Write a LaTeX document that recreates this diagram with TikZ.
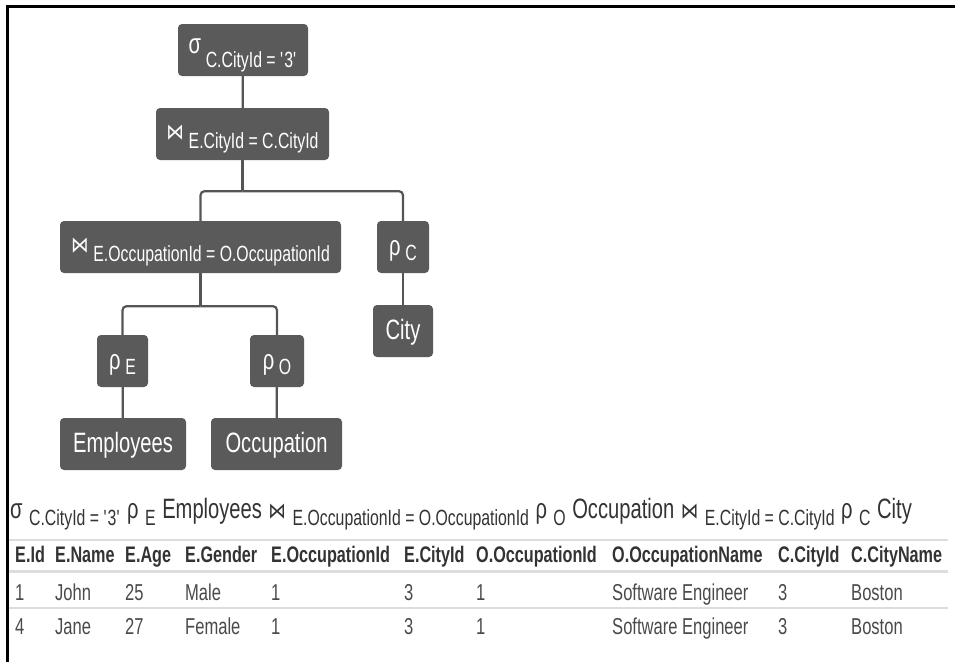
\documentclass[tikz,border=0pt]{standalone}
\usepackage{fontspec}
\setmainfont[FakeStretch=0.72]{Liberation Sans}
\newfontfamily\symfont[FakeStretch=0.8]{DejaVu Sans}

\definecolor{boxgrey}{HTML}{5A5A5A}
\definecolor{linegrey}{HTML}{555555}
\definecolor{textgrey}{HTML}{333333}
\definecolor{cellgrey}{HTML}{4A4A4A}
\definecolor{rulegrey}{HTML}{DDDDDD}

\newcommand{\bigtxt}{\fontsize{28}{30}\selectfont}
\newcommand{\smalltxt}{\fontsize{22}{24}\selectfont}
\newcommand{\lowsub}[2]{\raisebox{-#1}{\smalltxt #2}}
\newcommand{\joinsym}{{\symfont\fontsize{22}{24}\selectfont ⋈}}
\newcommand{\sq}{\textquotesingle}
\newcommand{\gap}{\hspace{6.5pt}}

\begin{document}
\begin{tikzpicture}[x=1pt,y=-1pt]
    \tikzstyle{relbox}=[rectangle,fill=boxgrey,rounded corners=4pt,text=white,inner sep=0pt,minimum height=52pt,text height=16pt,text depth=0pt,font=\bigtxt]
    \tikzstyle{conn}=[draw=linegrey,line width=2.2pt,rounded corners=4pt]
    \tikzstyle{headtxt}=[anchor=base west,inner sep=0pt,text=textgrey,font=\fontsize{22.5}{24}\selectfont\bfseries]
    \tikzstyle{celltxt}=[anchor=base west,inner sep=0pt,text=cellgrey,font=\fontsize{23}{24}\selectfont]
    \useasboundingbox (0,0) rectangle (955,662);

    % frame
    \draw[line width=3pt] (7.5,662) -- (7.5,6) -- (955,6);

    % tree
    \node[relbox,minimum width=130pt] (sel) at (243,50) {\raisebox{5pt}{σ}\,\lowsub{9pt}{C.CityId = \sq3\sq}};
    \node[relbox,minimum width=173pt] (cityjoin) at (242.5,134) {\raisebox{3pt}{\joinsym}\,\lowsub{6pt}{E.CityId = C.CityId}};
    \node[relbox,minimum width=281pt] (occjoin) at (200.5,247) {\raisebox{3pt}{\joinsym}\,\lowsub{6pt}{E.OccupationId = O.OccupationId}};
    \node[relbox,minimum width=52pt] (rhoc) at (403,247) {ρ\,\lowsub{5pt}{C}};
    \node[relbox,minimum width=60pt] (city) at (403,331) {City};
    \node[relbox,minimum width=51pt] (rhoe) at (122.5,361) {ρ\,\lowsub{5pt}{E}};
    \node[relbox,minimum width=54pt] (rhoo) at (277,361) {ρ\,\lowsub{5pt}{O}};
    \node[relbox,minimum width=126pt] (employees) at (123,444) {Employees};
    \node[relbox,minimum width=131pt] (occupation) at (276.5,444) {Occupation};

    \draw[conn] (sel) -- (cityjoin);
    \draw[conn] (cityjoin.south) -- ++(0,31) coordinate (fork-a);
    \draw[conn] (fork-a) -| (occjoin.north);
    \draw[conn] (fork-a) -| (rhoc.north);
    \draw[conn] (occjoin.south) -- ++(0,33) coordinate (fork-b);
    \draw[conn] (fork-b) -| (rhoe.north);
    \draw[conn] (fork-b) -| (rhoo.north);
    \foreach \from/\to in {rhoc/city,rhoe/employees,rhoo/occupation}
        \draw[conn] (\from) -- (\to);

    % expression
    \node[anchor=base west,inner sep=0pt,text=textgrey,font=\bigtxt] (expr) at (10,518)
        {σ\gap\lowsub{7pt}{C.CityId = \sq3\sq}\gap ρ\gap\lowsub{7pt}{E}\gap Employees\gap\joinsym\gap\lowsub{7pt}{E.OccupationId = O.OccupationId}\gap ρ\gap\lowsub{7pt}{O}\gap Occupation\gap\joinsym\gap\lowsub{7pt}{E.CityId = C.CityId}\gap ρ\gap\lowsub{7pt}{C}\gap City};

    % result table
    \draw[rulegrey,line width=2pt] (9,540) -- (948,540);
    \draw[rulegrey,line width=3pt] (9,571) -- (948,571);
    \draw[rulegrey,line width=1.5pt] (9,608) -- (948,608);

    \foreach \x/\head/\one/\two [count=\i] in {15/E.Id/1/4, 55/E.Name/John/Jane, 125/E.Age/25/27,
        185/E.Gender/Male/Female, 271/E.OccupationId/1/1, 404/E.CityId/3/3,
        476/O.OccupationId/1/1, 612/O.OccupationName/Software Engineer/Software Engineer,
        778/C.CityId/3/3, 851/C.CityName/Boston/Boston}
    {
        \node[headtxt] (head-\i) at (\x,562) {\head};
        \node[celltxt] (row1-\i) at (\x,600) {\one};
        \node[celltxt] (row2-\i) at (\x,634) {\two};
    }
\end{tikzpicture}
\end{document}
